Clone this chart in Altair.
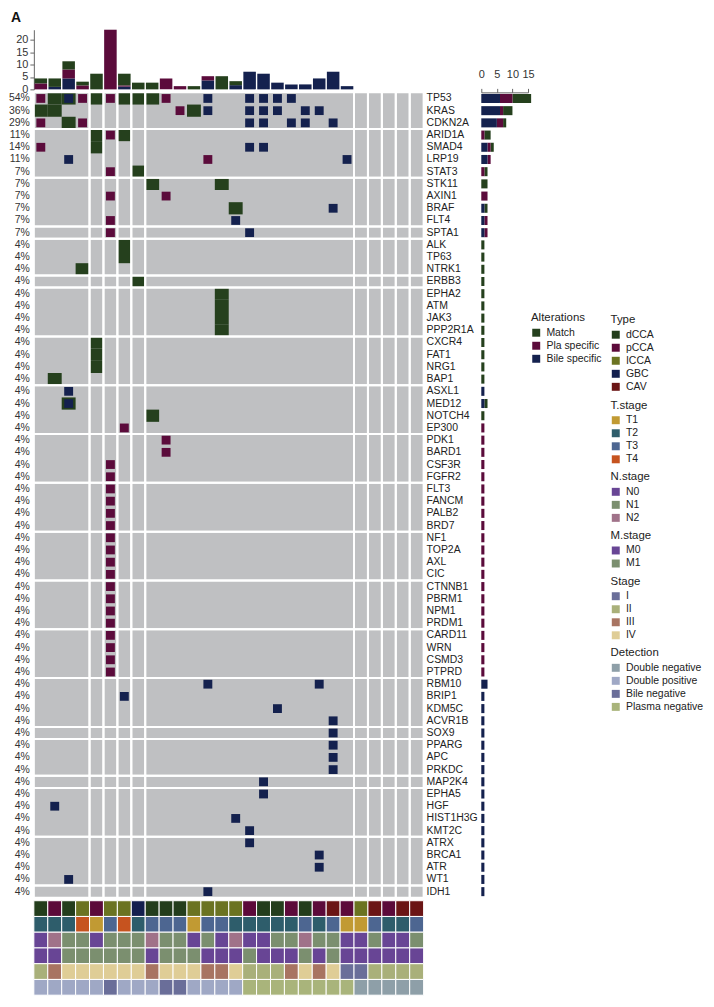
import altair as alt
import pandas as pd

FONT = "Liberation Sans"

genes = ["TP53", "KRAS", "CDKN2A", "ARID1A", "SMAD4", "LRP19", "STAT3", "STK11", "AXIN1", "BRAF",
         "FLT4", "SPTA1", "ALK", "TP63", "NTRK1", "ERBB3", "EPHA2", "ATM", "JAK3", "PPP2R1A",
         "CXCR4", "FAT1", "NRG1", "BAP1", "ASXL1", "MED12", "NOTCH4", "EP300", "PDK1", "BARD1",
         "CSF3R", "FGFR2", "FLT3", "FANCM", "PALB2", "BRD7", "NF1", "TOP2A", "AXL", "CIC",
         "CTNNB1", "PBRM1", "NPM1", "PRDM1", "CARD11", "WRN", "CSMD3", "PTPRD", "RBM10", "BRIP1",
         "KDM5C", "ACVR1B", "SOX9", "PPARG", "APC", "PRKDC", "MAP2K4", "EPHA5", "HGF", "HIST1H3G",
         "KMT2C", "ATRX", "BRCA1", "ATR", "WT1", "IDH1"]
pct_labels = ["54%", "36%", "29%", "11%", "14%", "11%", "7%", "7%", "7%", "7%",
              "7%", "7%", "4%", "4%", "4%", "4%", "4%", "4%", "4%", "4%",
              "4%", "4%", "4%", "4%", "4%", "4%", "4%", "4%", "4%", "4%",
              "4%", "4%", "4%", "4%", "4%", "4%", "4%", "4%", "4%", "4%",
              "4%", "4%", "4%", "4%", "4%", "4%", "4%", "4%", "4%", "4%",
              "4%", "4%", "4%", "4%", "4%", "4%", "4%", "4%", "4%", "4%",
              "4%", "4%", "4%", "4%", "4%", "4%"]

# sample (column) numbers carrying each alteration kind
match_cells = {"TP53": [2, 3, 5, 7, 8, 9], "KRAS": [1, 2, 12], "CDKN2A": [3], "ARID1A": [5, 7],
               "SMAD4": [5], "STAT3": [8], "STK11": [9, 14], "BRAF": [15], "ALK": [7], "TP63": [7],
               "NTRK1": [4], "ERBB3": [8], "EPHA2": [14], "ATM": [14], "JAK3": [14], "PPP2R1A": [14],
               "CXCR4": [5], "FAT1": [5], "NRG1": [5], "BAP1": [2], "MED12": [3], "NOTCH4": [9]}
pla_cells = {"TP53": [1, 4, 6, 10], "KRAS": [11], "CDKN2A": [1, 4], "ARID1A": [6], "SMAD4": [1],
             "LRP19": [13], "STAT3": [6], "AXIN1": [6, 10], "FLT4": [6], "SPTA1": [6], "EP300": [7],
             "PDK1": [10], "BARD1": [10], "CSF3R": [6], "FGFR2": [6], "FLT3": [6], "FANCM": [6],
             "PALB2": [6], "BRD7": [6], "NF1": [6], "TOP2A": [6], "AXL": [6], "CIC": [6],
             "CTNNB1": [6], "PBRM1": [6], "NPM1": [6], "PRDM1": [6], "CARD11": [6], "WRN": [6],
             "CSMD3": [6], "PTPRD": [6]}
bile_cells = {"TP53": [3, 13, 16, 17, 18, 19], "KRAS": [13, 16, 17, 18, 20, 21],
              "CDKN2A": [16, 17, 19, 20, 22], "SMAD4": [16, 17], "LRP19": [3, 23], "BRAF": [22],
              "FLT4": [15], "SPTA1": [16], "ASXL1": [3], "MED12": [3], "RBM10": [13, 21],
              "BRIP1": [7], "KDM5C": [18], "ACVR1B": [22], "SOX9": [22], "PPARG": [22], "APC": [22],
              "PRKDC": [22], "MAP2K4": [17], "EPHA5": [17], "HGF": [2], "HIST1H3G": [15],
              "KMT2C": [16], "ATRX": [16], "BRCA1": [21], "ATR": [21], "WT1": [3], "IDH1": [13]}

col_group_ends = [4, 5, 6, 7, 8, 23, 24, 25, 26, 27, 28]
row_group_ends = [3, 7, 11, 12, 15, 16, 20, 24, 28, 32, 36, 40, 44, 48, 52, 53, 56, 57, 61, 65, 66]

samples = list(range(1, 29))
top_bile = [0, 1.0, 4.4, 0, 0, 0, 1.1, 0, 0, 0, 0, 0, 3.6, 0, 1.7, 7.1, 6.3, 2.7, 2.0, 2.0, 4.4, 7.1, 1.3, 0, 0, 0, 0, 0]
top_pla = [2.4, 0, 3.6, 1.6, 0, 24.0, 0.5, 0, 0, 4.4, 1.3, 0, 1.7, 0, 0, 0, 0, 0, 0, 0, 0, 0, 0, 0, 0, 0, 0, 0]
top_match = [2.0, 3.4, 3.3, 1.5, 6.3, 0, 4.7, 2.7, 2.7, 0, 0, 1.3, 0, 5.3, 1.6, 0, 0, 0, 0, 0, 0, 0, 0, 0, 0, 0, 0, 0]

alt_types = ["Match", "Pla specific", "Bile specific"]
alt_colors = ["#25401d", "#5b0b3b", "#14214e"]

type_vals = ["dCCA", "pCCA", "dCCA", "ICCA", "pCCA", "ICCA", "ICCA", "GBC", "dCCA", "dCCA", "dCCA", "ICCA",
             "ICCA", "ICCA", "ICCA", "pCCA", "dCCA", "dCCA", "pCCA", "dCCA", "pCCA", "CAV", "pCCA", "ICCA",
             "CAV", "pCCA", "CAV", "CAV"]
t_vals = ["T2", "T2", "T2", "T4", "T1", "T3", "T4", "T2", "T3", "T3", "T3", "T1", "T3", "T3", "T2", "T2",
          "T2", "T2", "T2", "T3", "T2", "T3", "T1", "T1", "T3", "T2", "T2", "T3"]
n_vals = ["N0", "N2", "N1", "N1", "N0", "N1", "N1", "N1", "N2", "N1", "N1", "N0", "N1", "N0", "N2", "N0",
          "N0", "N1", "N1", "N2", "N1", "N1", "N0", "N0", "N1", "N0", "N0", "N1"]
m_vals = ["M0", "M0", "M1", "M1", "M1", "M1", "M1", "M1", "M0", "M1", "M1", "M1", "M0", "M0", "M0", "M1",
          "M0", "M0", "M0", "M1", "M0", "M1", "M0", "M0", "M0", "M0", "M0", "M0"]
stage_vals = ["II", "III", "IV", "IV", "IV", "IV", "IV", "IV", "III", "IV", "IV", "IV", "III", "III", "IV",
              "II", "II", "II", "III", "IV", "III", "IV", "I", "I", "II", "II", "II", "II"]
det_vals = ["Double positive", "Double positive", "Double positive", "Double positive", "Double positive",
            "Bile negative", "Double positive", "Double positive", "Double positive", "Bile negative",
            "Bile negative", "Double positive", "Double positive", "Double positive", "Double positive",
            "Plasma negative", "Plasma negative", "Plasma negative", "Plasma negative", "Plasma negative",
            "Plasma negative", "Plasma negative", "Plasma negative", "Double negative", "Double negative",
            "Double negative", "Double negative", "Double negative"]

ann_specs = [
    ("Type", type_vals, ["dCCA", "pCCA", "ICCA", "GBC", "CAV"],
     ["#233d1c", "#5c0a3a", "#6b7321", "#131f4e", "#6b1515"]),
    ("T.stage", t_vals, ["T1", "T2", "T3", "T4"], ["#c19a33", "#2e5d6b", "#4d6691", "#c6531f"]),
    ("N.stage", n_vals, ["N0", "N1", "N2"], ["#684595", "#7b8f6f", "#a07289"]),
    ("M.stage", m_vals, ["M0", "M1"], ["#684595", "#7b8f6f"]),
    ("Stage", stage_vals, ["I", "II", "III", "IV"], ["#6a6e99", "#a9b07a", "#a87462", "#dfcd96"]),
    ("Detection", det_vals, ["Double negative", "Double positive", "Bile negative", "Plasma negative"],
     ["#8e9fa8", "#9fa8c5", "#6a6e99", "#a9b47b"]),
]

NCOL = len(samples)
NROW = len(genes)
GRID_W = 392
GRID_H = 810
RIGHT_W = 47
ANN_H = 95
TOP_H = 60

# legend offsets (relative to the plot-area corners of the grid / annotation block)
ALT_LEGEND_X, ALT_LEGEND_Y = 500, 221
ANN_LEGEND_X = 580
ann_legend_y = [-590, -504, -432, -373, -327, -255]

# ---------------- data tables ----------------
gene_row = {g: i + 1 for i, g in enumerate(genes)}
rows = []
for kind, cells, sord in [("Match", match_cells, 2), ("Pla specific", pla_cells, 1), ("Bile specific", bile_cells, 0)]:
    for g, cols in cells.items():
        for c in cols:
            rows.append({"gene": g, "row": gene_row[g], "col": c, "type": kind, "sord": sord})
cells_df = pd.DataFrame(rows)

blocks = []
cstarts = [0] + col_group_ends[:-1]
rstarts = [0] + row_group_ends[:-1]
for c0, c1 in zip(cstarts, col_group_ends):
    for r0, r1 in zip(rstarts, row_group_ends):
        blocks.append({"x0": c0, "x1": c1, "y0": r0, "y1": r1})
blocks_df = pd.DataFrame(blocks)

genes_df = pd.DataFrame({"gene": genes, "pct": pct_labels, "row": list(range(1, len(genes) + 1))})

top_rows = []
for kind, vals, sord in [("Bile specific", top_bile, 0), ("Pla specific", top_pla, 1), ("Match", top_match, 2)]:
    for s, v in zip(samples, vals):
        if v > 0:
            top_rows.append({"col": s, "type": kind, "val": v, "sord": sord})
top_df = pd.DataFrame(top_rows)

xs = alt.Scale(domain=[0, NCOL], nice=False, zero=False)
ys = alt.Scale(domain=[0, NROW], reverse=True, nice=False, zero=False)
alt_scale = alt.Scale(domain=alt_types, range=alt_colors)
top_ys = alt.Scale(domain=[0, 24], nice=False)
top_axis = alt.Axis(values=[0, 5, 10, 15, 20], title=None, grid=False, tickSize=4,
                    labelFontSize=11, labelPadding=2, labelOverlap=False)

# ---------------- top bar ----------------
top_bars = alt.Chart(top_df).transform_stack(
    stack="val", groupby=["col"], as_=["v0", "v1"], sort=[alt.SortField("sord", order="ascending")]
).transform_calculate(
    x0="datum.col - 1 + 0.05", x1="datum.col - 0.05"
).mark_rect().encode(
    x=alt.X("x0:Q", scale=xs, axis=None),
    x2="x1:Q",
    y=alt.Y("v0:Q", scale=top_ys, axis=top_axis),
    y2="v1:Q",
    color=alt.Color("type:N", scale=alt_scale, legend=None),
)
# panel tag "A", anchored at the top-left corner of the top bar panel
panel_tag = alt.Chart(pd.DataFrame({"tag": ["A"]})).transform_calculate(
    xa="0", ya="24"
).mark_text(
    align="left", baseline="middle", fontSize=14, fontWeight="bold", font=FONT, color="#111111",
    dx=-23, dy=-12
).encode(
    x=alt.X("xa:Q", scale=xs, axis=None),
    y=alt.Y("ya:Q", scale=top_ys, axis=top_axis),
    text="tag:N",
)
topbar = alt.layer(top_bars, panel_tag).properties(width=GRID_W, height=TOP_H)

# empty companion cell to the right of the top bar
blank = alt.Chart(pd.DataFrame({"a": [0]})).mark_point(opacity=0).encode(
    x=alt.X("a:Q", axis=None), y=alt.Y("a:Q", axis=None)
).properties(width=RIGHT_W, height=TOP_H)

# ---------------- main grid ----------------
bg = alt.Chart(blocks_df).mark_rect(color="#bfc0c2").encode(
    x=alt.X("x0:Q", scale=xs, axis=None), x2="x1:Q",
    y=alt.Y("y0:Q", scale=ys, axis=None), y2="y1:Q",
)
cell_layer = alt.Chart(cells_df).transform_calculate(
    ix="datum.type == 'Match' ? 0 : 0.18",
    iy="datum.type == 'Match' ? 0 : 0.14",
).transform_calculate(
    x0="datum.col - 1 + datum.ix", x1="datum.col - datum.ix",
    y0="datum.row - 1 + datum.iy", y1="datum.row - datum.iy",
).mark_rect().encode(
    x=alt.X("x0:Q", scale=xs, axis=None), x2="x1:Q",
    y=alt.Y("y0:Q", scale=ys, axis=None), y2="y1:Q",
    color=alt.Color("type:N", scale=alt_scale,
                    legend=alt.Legend(title="Alterations", orient="none",
                                      legendX=ALT_LEGEND_X, legendY=ALT_LEGEND_Y)),
)
lines = alt.Chart(blocks_df).mark_rect(fillOpacity=0, stroke="white", strokeWidth=2).encode(
    x=alt.X("x0:Q", scale=xs, axis=None), x2="x1:Q",
    y=alt.Y("y0:Q", scale=ys, axis=None), y2="y1:Q",
)
pct_text = alt.Chart(genes_df).transform_calculate(yc="datum.row - 0.5", xl="0").mark_text(
    align="right", baseline="middle", dx=-4, fontSize=10.5, font=FONT, color="#333333"
).encode(x=alt.X("xl:Q", scale=xs, axis=None), y=alt.Y("yc:Q", scale=ys, axis=None), text="pct:N")
gene_text = alt.Chart(genes_df).transform_calculate(yc="datum.row - 0.5", xr=str(NCOL)).mark_text(
    align="left", baseline="middle", dx=3, fontSize=10.5, font=FONT, color="#222222"
).encode(x=alt.X("xr:Q", scale=xs, axis=None), y=alt.Y("yc:Q", scale=ys, axis=None), text="gene:N")

grid = alt.layer(bg, cell_layer, lines, pct_text, gene_text).properties(width=GRID_W, height=GRID_H)

# ---------------- right bar ----------------
right = alt.Chart(cells_df).transform_aggregate(
    n="count()", groupby=["row", "type", "sord"]
).transform_stack(
    stack="n", groupby=["row"], as_=["s0", "s1"], sort=[alt.SortField("sord", order="ascending")]
).transform_calculate(
    y0="datum.row - 1 + 0.13", y1="datum.row - 0.13"
).mark_rect().encode(
    x=alt.X("s0:Q", scale=alt.Scale(domain=[0, 15], nice=False, zero=True),
            axis=alt.Axis(orient="top", values=[0, 5, 10, 15], title=None, grid=False, tickSize=4,
                          labelFontSize=11, labelPadding=9, labelFlush=False, labelOverlap=False)),
    x2="s1:Q",
    y=alt.Y("y0:Q", scale=ys, axis=None), y2="y1:Q",
    color=alt.Color("type:N", scale=alt_scale, legend=None),
).properties(width=RIGHT_W, height=GRID_H)

# ---------------- annotation tracks ----------------
track_names = [s[0] for s in ann_specs]
ann_layers = []
for (name, vals, dom, rng), ly in zip(ann_specs, ann_legend_y):
    df = pd.DataFrame({"col": samples, "val": vals, "track": name})
    ann_layers.append(
        alt.Chart(df).transform_calculate(x0="datum.col - 1", x1="datum.col").mark_rect(
            stroke="white", strokeWidth=1
        ).encode(
            x=alt.X("x0:Q", scale=xs, axis=None), x2="x1:Q",
            y=alt.Y("track:N", scale=alt.Scale(domain=track_names, paddingInner=0, paddingOuter=0), axis=None),
            color=alt.Color("val:N", scale=alt.Scale(domain=dom, range=rng),
                            legend=alt.Legend(title=name, orient="none", legendX=ANN_LEGEND_X, legendY=ly)),
        )
    )
ann = alt.layer(*ann_layers).resolve_scale(color="independent").properties(width=GRID_W, height=ANN_H)

chart = alt.concat(
    topbar, blank, grid, right, ann, columns=2, spacing={"row": 3, "column": 58}, bounds="flush"
).resolve_scale(
    color="independent"
).properties(
    padding={"left": 0, "top": 0, "right": 2, "bottom": 0},
).configure_view(stroke=None).configure_axis(
    labelFont=FONT, labelColor="#333333", domainColor="#666666", tickColor="#666666"
).configure_legend(
    titleFont=FONT, labelFont=FONT, titleFontSize=11.5, titleFontWeight="normal", labelFontSize=10.5,
    titleColor="#222222", labelColor="#222222", symbolType="square", symbolSize=64,
    symbolStrokeWidth=0, rowPadding=2.1, titlePadding=4, padding=0, labelOffset=5
)

chart.save("out.html", embed_options={"renderer": "svg", "actions": False})
